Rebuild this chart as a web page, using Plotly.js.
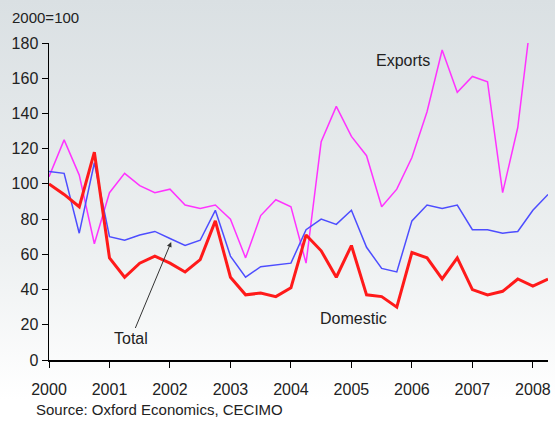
<!DOCTYPE html>
<html>
<head>
<meta charset="utf-8">
<script src="https://cdn.plot.ly/plotly-3.0.1.min.js"></script>
<style>
  html, body { margin: 0; padding: 0; background: #ffffff; }
  #chart {
    width: 555px; height: 421px;
    background: linear-gradient(to bottom, #dae0e3 0px, #edf0f1 250px, #ffffff 400px, #ffffff 421px);
  }
</style>
</head>
<body>
<div id="chart"></div>
<script>
// quarterly index, 2000=100
let quarters = [];
for (let i = 0; i < 34; i++) quarters.push(2000 + i * 0.25);

let exports_ = [104, 125, 105, 66, 95, 106, 99, 95, 97, 88, 86, 88, 80, 58, 82, 91, 87, 55, 124, 144, 127, 116, 87, 97, 115, 141, 176, 152, 161, 158, 95, 132, 203];
let total = [107, 106, 72, 112, 70, 68, 71, 73, 69, 65, 68, 85, 59, 47, 53, 54, 55, 74, 80, 77, 85, 64, 52, 50, 79, 88, 86, 88, 74, 74, 72, 73, 85, 94];
let domestic = [100, 94, 87, 118, 58, 47, 55, 59, 55, 50, 57, 79, 47, 37, 38, 36, 41, 71, 62, 47, 65, 37, 36, 30, 61, 58, 46, 58, 40, 37, 39, 46, 42, 46];

let yearTicks = [2000, 2001, 2002, 2003, 2004, 2005, 2006, 2007, 2008];

let fnt = 'Liberation Sans, Arial, sans-serif';
let txtColor = '#222222';

var tExports = {
    x: quarters.slice(0, exports_.length),
    y: exports_,
    mode: 'lines', line: {color: '#ff33ff', width: 1.5}
};
var tTotal = {
    x: quarters,
    y: total,
    mode: 'lines', line: {color: '#4d4dff', width: 1.5}
};
var tDomestic = {
    x: quarters,
    y: domestic,
    mode: 'lines', line: {color: '#ff1a1a', width: 3}
};

var layout = {
    width: 555,
    height: 421,
    showlegend: false,
    paper_bgcolor: 'rgba(0,0,0,0)',
    plot_bgcolor: 'rgba(0,0,0,0)',
    margin: {l: 49, r: 7, t: 43, b: 61, pad: 0},
    font: {family: fnt, size: 16, color: txtColor},
    xaxis: {
        range: [2000, 2008.25],
        tickvals: yearTicks,
        ticktext: yearTicks.map(String),
        ticks: 'outside', ticklen: 6, tickwidth: 1, tickcolor: '#000',
        showline: true, linecolor: '#000', linewidth: 1.5,
        showgrid: false, zeroline: false,
        ticklabelstandoff: 8,
        tickfont: {family: fnt, size: 16, color: txtColor}
    },
    yaxis: {
        range: [0, 180],
        tickvals: [0, 20, 40, 60, 80, 100, 120, 140, 160, 180],
        ticks: 'outside', ticklen: 6, tickwidth: 1, tickcolor: '#000',
        showline: true, linecolor: '#000', linewidth: 1.5,
        showgrid: false, zeroline: false,
        tickfont: {family: fnt, size: 16, color: txtColor}
    },
    annotations: [
        {xref: 'paper', yref: 'paper', x: -0.078, y: 1.082, xanchor: 'left', yanchor: 'middle',
         text: '2000=100', showarrow: false, font: {family: fnt, size: 15, color: txtColor}},
        {xref: 'paper', yref: 'paper', x: -0.03, y: -0.155, xanchor: 'left', yanchor: 'middle',
         text: 'Source: Oxford Economics, CECIMO', showarrow: false, font: {family: fnt, size: 15, color: txtColor}},
        {x: 2005.85, y: 170, text: 'Exports', showarrow: false, font: {family: fnt, size: 16, color: txtColor}},
        {x: 2005.03, y: 23.5, text: 'Domestic', showarrow: false, font: {family: fnt, size: 16, color: txtColor}},
        {x: 2002.02, y: 67, text: 'Total', showarrow: true, ax: -40, ay: 96,
         arrowhead: 2, arrowsize: 1, arrowwidth: 1, arrowcolor: '#333333',
         font: {family: fnt, size: 16, color: txtColor}}
    ]
};

Plotly.newPlot('chart', [tExports, tTotal, tDomestic], layout, {staticPlot: true});
</script>
</body>
</html>
